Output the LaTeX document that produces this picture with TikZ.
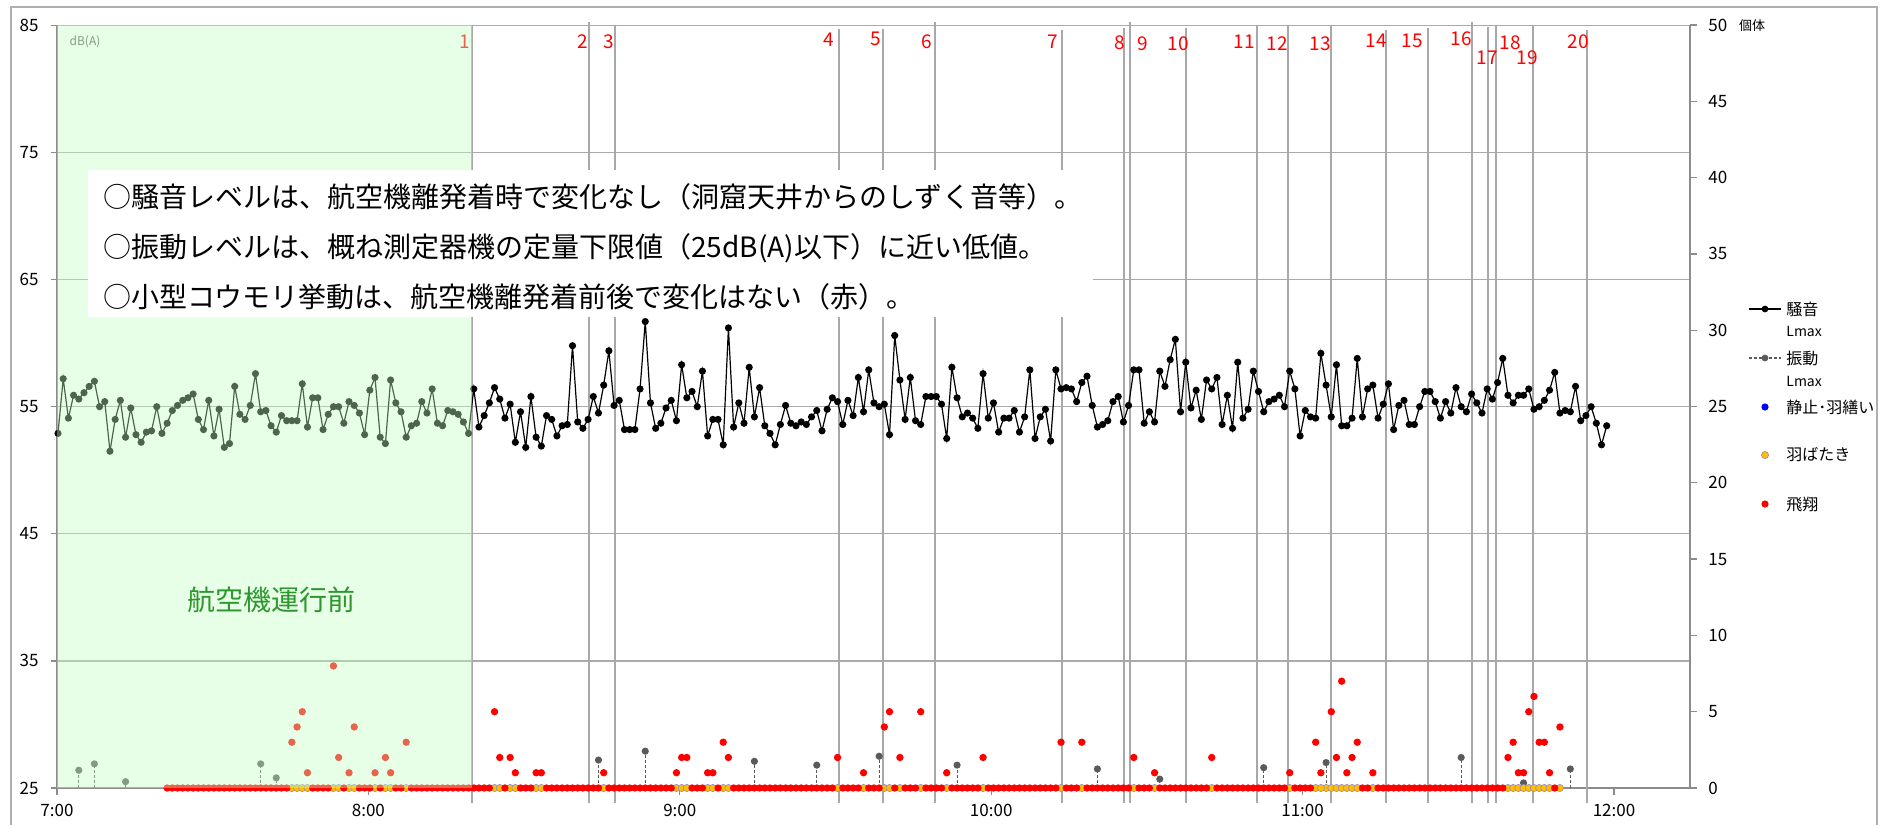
\documentclass[tikz,border=0pt]{standalone}
\usepackage{fontspec}
\setmainfont{Noto Sans CJK JP}
\usetikzlibrary{positioning}
\usepackage{xcolor}

\definecolor{framegray}{RGB}{175,175,175}
\definecolor{gridgray}{RGB}{170,170,170}
\definecolor{axisgray}{RGB}{140,140,140}
\definecolor{evgray}{RGB}{168,168,168}
\definecolor{vibgray}{RGB}{90,90,90}
\definecolor{flapor}{RGB}{255,190,0}
\definecolor{flapedge}{RGB}{150,135,200}
\definecolor{restblue}{RGB}{0,0,255}
\definecolor{prenote}{RGB}{192,255,192}
\definecolor{pretext}{RGB}{45,150,45}

% minute index -> x, dB -> y, count -> y (picture units are pixels)
\newcommand{\tx}[1]{(58+5.197*(#1))}
\newcommand{\dby}[1]{(788-((#1)-25)*12.71)}
\newcommand{\cty}[1]{(788-(#1)*15.26)}

\newcommand{\axfont}{\fontsize{8.5}{10}\selectfont}
\newcommand{\evfont}{\fontsize{9.5}{11}\selectfont}
\newcommand{\notefont}{\fontsize{14}{16}\selectfont}
\newcommand{\legfont}{\fontsize{8}{10}\selectfont}

% noise Lmax, one value per minute from 7:00
\newcommand{\noisedata}{52.9,57.2,54.1,55.9,55.6,56.1,56.6,57.0,55.0,55.4,51.5,54.0,55.5,52.6,54.9,52.8,52.2,53.0,53.1,55.0,52.9,53.7,54.7,55.1,55.5,55.7,56.0,54.0,53.2,55.5,52.7,54.8,51.8,52.1,56.6,54.4,54.0,55.1,57.6,54.6,54.7,53.5,53.0,54.3,53.9,53.9,53.9,56.8,53.4,55.7,55.7,53.2,54.4,55.0,55.0,53.7,55.4,55.1,54.5,52.8,56.3,57.3,52.6,52.1,57.1,55.3,54.6,52.6,53.5,53.7,55.4,54.5,56.4,53.7,53.5,54.7,54.6,54.4,53.8,52.9,56.4,53.4,54.3,55.3,56.5,55.6,54.1,55.2,52.2,54.6,51.8,55.8,52.6,51.9,54.3,54.0,52.7,53.5,53.6,59.8,53.8,53.3,54.0,55.8,54.5,56.7,59.4,55.1,55.5,53.2,53.2,53.2,56.4,61.7,55.3,53.3,53.7,54.9,55.5,53.9,58.3,55.7,56.2,55.0,57.8,52.7,54.0,54.0,52.0,61.2,53.4,55.3,53.7,58.1,54.2,56.5,53.5,52.9,52.0,53.6,55.1,53.7,53.5,53.8,53.6,54.2,54.7,53.1,54.8,55.7,55.4,53.6,55.5,54.3,57.3,54.6,57.9,55.3,55.0,55.2,52.8,60.6,57.1,54.0,57.3,53.9,53.6,55.8,55.8,55.8,55.2,52.5,58.1,55.7,54.2,54.5,54.1,53.3,57.6,54.1,55.3,53.0,54.1,54.1,54.7,53.0,54.2,57.9,52.5,54.2,54.8,52.3,57.9,56.4,56.5,56.4,55.4,56.9,57.4,55.1,53.4,53.6,53.9,55.4,55.8,53.8,55.1,57.9,57.9,53.7,54.6,53.8,57.8,56.6,58.7,60.3,54.6,58.5,54.9,56.3,54.0,57.1,56.4,57.3,53.6,55.9,53.3,58.5,54.1,54.8,57.8,56.2,54.6,55.4,55.6,55.9,55.0,57.8,56.4,52.7,54.7,54.2,54.1,59.2,56.7,54.2,58.3,53.5,53.5,54.1,58.8,54.2,56.4,56.7,54.1,55.2,56.8,53.2,55.1,55.5,53.6,53.6,55.0,56.2,56.2,55.4,54.1,55.4,54.5,56.5,55.0,54.6,56.0,55.3,54.5,56.4,55.6,56.9,58.8,55.9,55.3,55.9,55.9,56.4,54.8,55.0,55.5,56.3,57.7,54.5,54.7,54.6,56.6,53.9,54.3,55.0,53.7,52.0,53.5}
% vibration Lmax above 25 dB: minute/value
\newcommand{\vibdata}{4/26.4,7/26.9,13/25.5,39/26.9,42/25.8,104/27.2,113/27.9,134/27.1,146/26.8,158/27.5,173/26.8,200/26.5,212/25.7,232/26.6,244/27.0,270/27.4,282/25.4,291/26.5}
% flying bats: minute/count
\newcommand{\flydata}{45/3,46/4,47/5,48/1,53/8,54/2,56/1,57/4,61/1,63/2,64/1,67/3,84/5,85/2,87/2,88/1,92/1,93/1,105/1,119/1,120/2,121/2,125/1,126/1,128/3,129/2,150/2,155/1,159/4,160/5,162/2,166/5,171/1,178/2,193/3,197/3,207/2,211/1,222/2,237/1,242/3,243/1,245/5,246/2,247/7,248/1,249/2,250/3,253/1,279/2,280/3,281/1,282/1,283/5,284/6,285/3,286/3,287/1,289/4}

\begin{document}
\begin{tikzpicture}[x=0.5pt,y=-0.5pt,
    gline/.style={draw=gridgray,line width=0.65pt},
    axline/.style={draw=axisgray,line width=0.65pt},
    evline/.style={draw=evgray,line width=0.65pt},
    evlab/.style={text=red,font=\evfont,inner sep=0},
    axlab/.style={font=\axfont,inner sep=0},
    noise/.style={draw=black,line width=0.6pt},
    vibstem/.style={draw=vibgray,line width=0.55pt,dash pattern=on 1.5pt off 1pt},
    vib/.style={fill=vibgray},
    fly/.style={fill=red},
    flap/.style={fill=flapor,draw=flapedge,line width=0.3pt},
    note/.style={anchor=west,inner sep=0,font=\notefont},
    leg/.style={anchor=west,inner sep=0,font=\legfont}]
    \useasboundingbox (0,0) rectangle (1887,825);
    \draw[draw=framegray,line width=0.6pt] (11,835) -- (11,7) -- (1877,7) -- (1877,835);

    % grid and axes
    \foreach \d in {35,45,...,85} {
        \draw[gline] (57,{\dby{\d}}) -- (1690,{\dby{\d}});
        \draw[axline] (51,{\dby{\d}}) -- (57,{\dby{\d}});
    }
    \draw[axline] (51,788) -- (1690,788);
    \draw[axline] (57,25) -- (57,788);
    \draw[axline] (1690,25) -- (1690,788);
    \foreach \d in {25,35,...,85}
        \node[axlab,anchor=east] (l\d) at (39,{\dby{\d}}) {\d};
    \foreach \c in {0,5,...,50} {
        \draw[axline] (1690,{\cty{\c}}) -- (1697,{\cty{\c}});
        \node[axlab,anchor=west] (r\c) at (1708,{\cty{\c}}) {\c};
    }
    \foreach \h [count=\j from 0] in {7,8,...,12} {
        \draw[axline] ({57+311.4*\j},788) -- ({57+311.4*\j},795);
        \node[axlab] (t\h) at ({57+311.4*\j},810) {\h:00};
    }
    \node[font=\fontsize{6}{7}\selectfont,text=vibgray,inner sep=0] (dba) at (85,42) {dB(A)};
    \node[font=\fontsize{6.5}{8}\selectfont,inner sep=0] (kotai) at (1752,26) {個体};

    % aircraft events
    \foreach \xx/\yt in {472/25,589/22,615/25,839/29,883/29,935/22,1062/30,1124/28,1130/22,1186/28,1257/25,1288/25,1331/25,1386/30,1428/28,1472/22,1488/27,1496/25,1533/25,1587/30}
        \draw[evline] (\xx,\yt) -- (\xx,803);
    \foreach \xx/\yy/\lab in {465/42/1,583/42/2,609/42/3,829/40/4,876/39/5,927/42/6,1053/42/7,1120/43/8,1143/44/9,1178/44/10,1244/42/11,1277/44/12,1320/44/13,1376/41/14,1412/41/15,1461/39/16,1487/58/17,1510/43/18,1527/58/19,1578/42/20}
        \node[evlab] (ev\lab) at (\xx,\yy) {\lab};

    % noise
    \draw[noise] ({\tx{0}},{\dby{52.9}}) \foreach \v [count=\i from 0] in \noisedata { -- ({\tx{\i}},{\dby{\v}}) };
    \foreach \v [count=\i from 0] in \noisedata
        \fill ({\tx{\i}},{\dby{\v}}) circle (1.8pt);

    % vibration
    \foreach \k/\v in \vibdata {
        \draw[vibstem] ({\tx{\k}},788) -- ({\tx{\k}},{\dby{\v}});
        \fill[vib] ({\tx{\k}},{\dby{\v}}) circle (1.8pt);
    }

    % bats
    \foreach \k/\c in \flydata {\expandafter\xdef\csname fl\k\endcsname{\c}}
    \expandafter\xdef\csname fl244\endcsname{0}
    \filldraw[flap] ({\tx{244}},788) circle (1.8pt);
    \foreach \k/\c in \flydata
        \filldraw[flap] ({\tx{\k}},788) circle (1.8pt);
    \foreach \k in {21,...,288} {
        \ifcsname fl\k\endcsname\else\fill[fly] ({\tx{\k}},788) circle (1.85pt);\fi
    }
    \foreach \k/\c in \flydata
        \fill[fly] ({\tx{\k}},{\cty{\c}}) circle (1.85pt);

    % before aircraft operation
    \fill[prenote,fill opacity=0.4] (57,25) rectangle (472,788);
    \node[text=pretext,font=\fontsize{14}{16}\selectfont,inner sep=0] (pre) at (271,600) {航空機運行前};

    % note box
    \fill[white] (88,170) rectangle (1093,317);
    \node[note] (note1) at (103,197) {○騒音レベルは、航空機離発着時で変化なし（洞窟天井からのしずく音等）。};
    \node[note] (note2) at (103,248) {○振動レベルは、概ね測定器機の定量下限値（25dB(A)以下）に近い低値。};
    \node[note] (note3) at (103,297) {○小型コウモリ挙動は、航空機離発着前後で変化はない（赤）。};

    % legend
    \draw[noise] (1749,309) -- (1781,309);
    \fill (1765,309) circle (1.7pt);
    \node[leg] (lg1) at (1786,309) {騒音};
    \node[leg,font=\fontsize{7}{8}\selectfont] (lg1b) at (1786,331) {Lmax};
    \draw[vibstem] (1749,358) -- (1781,358);
    \fill[vib] (1765,358) circle (1.7pt);
    \node[leg] (lg2) at (1786,358) {振動};
    \node[leg,font=\fontsize{7}{8}\selectfont] (lg2b) at (1786,381) {Lmax};
    \fill[restblue] (1765,407) circle (1.8pt);
    \node[leg] (lg3) at (1786,407) {静止･羽繕い};
    \filldraw[flap] (1765,455) circle (1.8pt);
    \node[leg] (lg4) at (1786,455) {羽ばたき};
    \fill[fly] (1765,504) circle (1.8pt);
    \node[leg] (lg5) at (1786,504) {飛翔};
\end{tikzpicture}
\end{document}
